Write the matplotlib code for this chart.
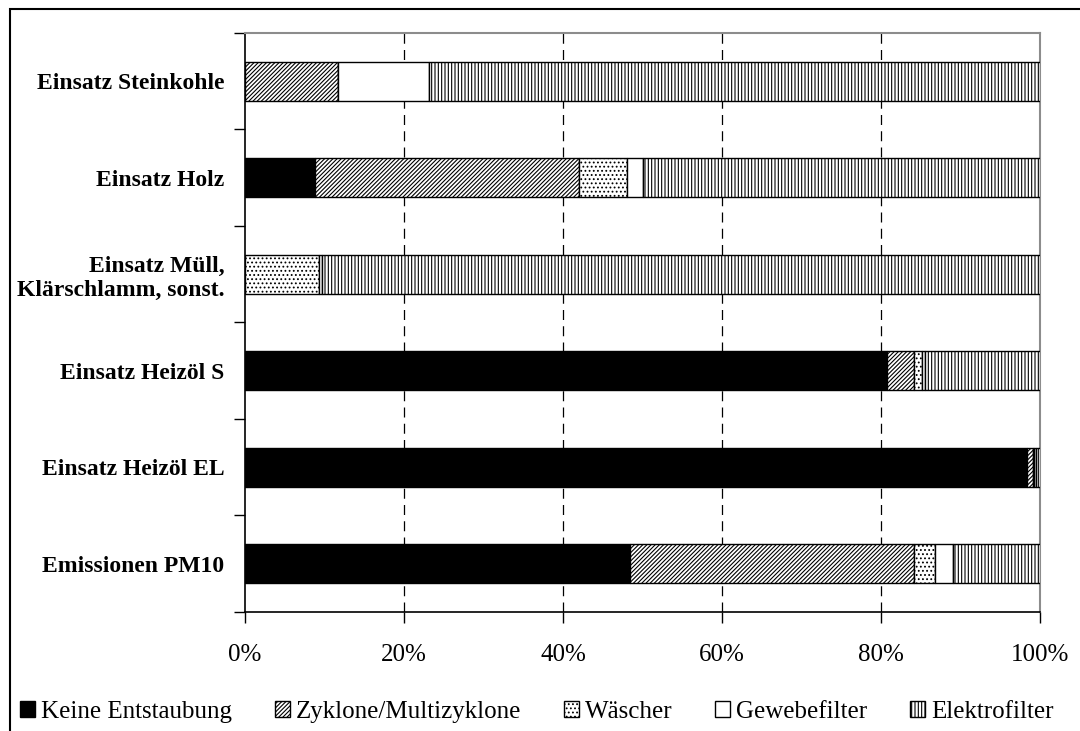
import numpy as np
import matplotlib as mpl
import matplotlib.pyplot as plt
from matplotlib.patches import Rectangle

mpl.rcParams["font.family"] = ["Liberation Serif", "DejaVu Serif"]
mpl.rcParams["hatch.linewidth"] = 0.8

categories = [
    "Einsatz Steinkohle",
    "Einsatz Holz",
    "Einsatz Müll,\nKlärschlamm, sonst.",
    "Einsatz Heizöl S",
    "Einsatz Heizöl EL",
    "Emissionen PM10",
]
series = [
    "Keine Entstaubung",
    "Zyklone/Multizyklone",
    "Wäscher",
    "Gewebefilter",
    "Elektrofilter",
]
keine = [0.0, 8.8, 0.0, 80.8, 98.3, 48.4]
zyklone = [11.7, 33.2, 0.0, 3.3, 0.8, 35.7]
waescher = [0.0, 6.0, 9.3, 1.1, 0.2, 2.7]
gewebe = [11.4, 2.1, 0.4, 0.3, 0.2, 2.2]
elektro = [76.9, 49.9, 90.3, 14.5, 0.5, 11.0]
xticks = [0, 20, 40, 60, 80, 100]

values = [keine, zyklone, waescher, gewebe, elektro]
styles = [
    dict(facecolor="black", hatch=None),
    dict(facecolor="white", hatch="////////"),
    dict(facecolor="white", hatch="...."),
    dict(facecolor="white", hatch=None),
    dict(facecolor="white", hatch="|||||"),
]


def main():
    fig = plt.figure(figsize=(10.8, 7.31), dpi=100)
    ax = fig.add_axes([0.2269, 0.1628, 0.963 - 0.2269, 0.9549 - 0.1628])
    y = np.arange(len(categories))
    left = np.zeros(len(categories))
    for name, vals, st in zip(series, values, styles):
        vals = np.array(vals)
        ax.barh(y, vals, left=left, height=0.4, edgecolor="black",
                linewidth=1.0, label=name, zorder=3, **st)
        left += vals
    ax.set_xlim(0, 100)
    ax.set_ylim(len(categories) - 0.5, -0.5)
    ax.set_xticks(xticks)
    ax.set_xticklabels([f"{t}%" for t in xticks], fontsize=18)
    ax.tick_params(axis="x", direction="out", length=8, width=1, pad=15)
    ax.set_yticks(np.arange(-0.5, len(categories)))
    ax.set_yticklabels([])
    ax.tick_params(axis="y", which="major", direction="out", length=8, width=1)
    ax.set_yticks(y, minor=True)
    ax.set_yticklabels(categories, minor=True, fontsize=17, fontweight="bold")
    ax.tick_params(axis="y", which="minor", length=0, pad=15)
    for t in xticks[1:-1]:
        ax.axvline(t, color="black", linestyle=(0, (8, 5)), linewidth=0.9,
                   zorder=1)
    for side in ["top", "right"]:
        ax.spines[side].set_color("#8c8c8c")
        ax.spines[side].set_linewidth(1.5)
    for side in ["left", "bottom"]:
        ax.spines[side].set_color("black")
        ax.spines[side].set_linewidth(1.2)
    # outer chart border
    fig.patches.append(Rectangle((10 / 1080, -0.05), 1.1, 1.05 - 9 / 731,
                                 transform=fig.transFigure, fill=False,
                                 edgecolor="black", linewidth=1.5))
    fig.legend(loc="center", bbox_to_anchor=(0.497, 0.026), ncol=5,
               frameon=False, fontsize=18, handlelength=0.6,
               handleheight=0.6, handletextpad=0.25, columnspacing=1.7)
    fig.savefig("out.png", dpi=100)


if __name__ == "__main__":
    main()
